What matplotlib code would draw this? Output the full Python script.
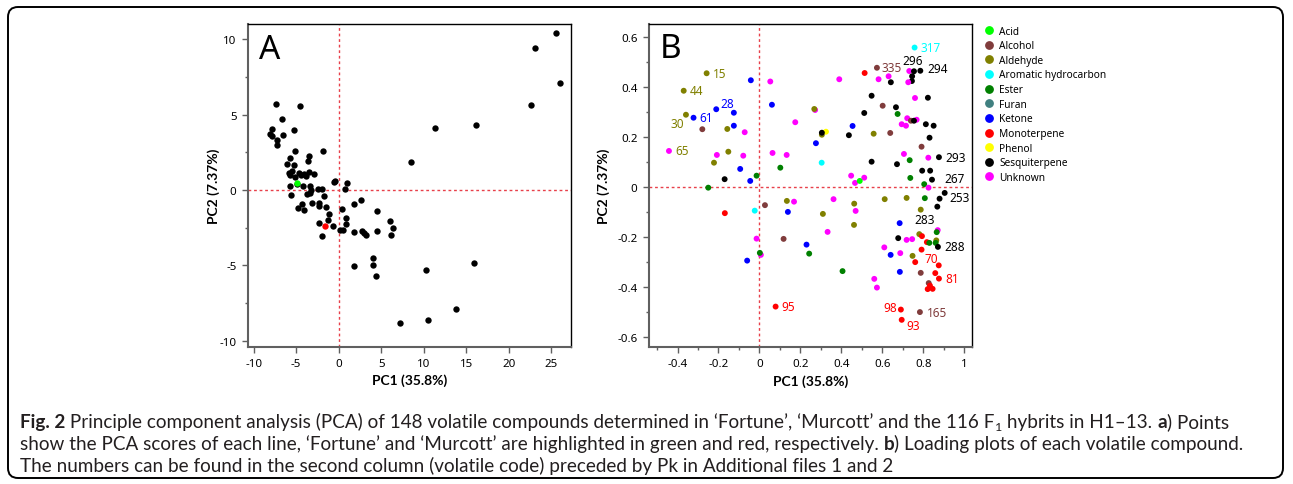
import matplotlib
matplotlib.use("Agg")
import matplotlib.pyplot as plt
from matplotlib.lines import Line2D
from matplotlib.patches import FancyBboxPatch
from matplotlib.transforms import IdentityTransform
from matplotlib.ticker import MultipleLocator

plt.rcParams['font.family'] = ['Noto Sans', 'DejaVu Sans']
plt.rcParams['axes.unicode_minus'] = False

# ---------------- panel A : PCA scores of each line ----------------
scores_pc1 = [25.6, 23.1, 26.0, 22.6, 16.16, 11.37, 8.47, -7.41, -4.51, -6.71,
              -7.8, -8.04, -7.88, -7.25, -7.25, -6.59, -5.29, -5.1, -1.88, -5.69,
              -3.49, -3.65, -6.04, -5.29, -5.88, -5.53, -4.71, -4.08, -3.45, -2.94,
              -5.76, -5.14, -4.43, -3.8, -0.47, -0.55, 1.02, 0.71, -5.73, -4.86,
              -4.24, -3.41, -3.25, -2.47, -1.96, -3.73, -3.37, -5.65, -1.73, -3.14,
              -2.27, -2.27, -4.31, -4.78, -4.04, -1.45, -1.14, -1.29, -2.27, -0.63,
              -1.92, 0.2, 0.51, 0.39, 0.86, 0.9, 1.76, 2.67, 1.76, 2.71,
              2.98, 3.25, 4.47, 4.51, 6.04, 6.39, 6.2, 1.76, 3.99, 3.99,
              4.39, 7.22, 10.24, 10.51, 13.84, 15.92]
scores_pc2 = [10.42, 9.38, 7.11, 5.63, 4.33, 4.08, 1.85, 5.67, 5.56, 4.72,
              4.02, 3.71, 3.58, 3.33, 2.98, 3.66, 3.97, 2.56, 2.58, 2.14,
              2.25, 1.9, 1.72, 1.63, 1.13, 1.26, 1.15, 1.06, 1.19, 1.06,
              0.97, 0.86, 0.97, 0.91, 0.6, 0.53, 0.44, 0.04, 0.24, 0.38,
              0.24, 0.24, -0.02, 0.04, 0.04, -0.26, -0.22, -0.31, -0.42, -0.84,
              -0.86, -1.06, -0.93, -1.21, -1.35, -1.15, -1.61, -2.01, -2.19, -2.36,
              -3.02, -2.65, -2.65, -1.24, -1.83, -2.25, -0.95, -0.68, -2.76, -2.74,
              -2.83, -2.96, -1.41, -2.74, -2.05, -2.52, -2.96, -5.01, -4.48, -4.99,
              -5.7, -8.81, -5.3, -8.59, -7.88, -4.83]
fortune_score = (-4.94, 0.46)
murcott_score = (-1.57, -2.36)

# ---------------- panel B : loadings of each volatile ----------------
class_names = ["Acid", "Alcohol", "Aldehyde", "Aromatic hydrocarbon", "Ester", "Furan",
               "Ketone", "Monoterpene", "Phenol", "Sesquiterpene", "Unknown"]
class_colors = ["#00ff00", "#803c3c", "#808000", "#00ffff", "#008000", "#408080",
                "#0000ff", "#ff0000", "#ffff00", "#000000", "#ff00ff"]

loading_pc1 = [-0.258, -0.37, -0.359, -0.322, -0.211, -0.279, -0.442, -0.125, -0.125, -0.157,
               -0.072, -0.152, -0.208, -0.222, -0.079, -0.094, -0.17, -0.045, -0.014, -0.25,
               -0.042, 0.053, 0.061, 0.175, 0.064, 0.133, 0.102, 0.272, 0.268, 0.305,
               0.325, 0.305, 0.276, 0.304, 0.39, -0.169, -0.023, 0.027, 0.134, 0.169,
               0.139, 0.362, 0.31, 0.333, -0.014, 0.118, 0.23, 0.243, 0.007, 0.002,
               -0.06, 0.079, 0.758, 0.732, 0.755, 0.786, 0.574, 0.514, 0.582, 0.631,
               0.642, 0.746, 0.745, 0.727, 0.548, 0.76, 0.823, 0.602, 0.667, 0.675,
               0.512, 0.722, 0.768, 0.74, 0.755, 0.695, 0.716, 0.813, 0.851, 0.455,
               0.437, 0.558, 0.639, 0.831, 0.792, 0.706, 0.825, 0.877, 0.548, 0.672,
               0.734, 0.795, 0.834, 0.448, 0.512, 0.467, 0.49, 0.737, 0.843, 0.805,
               0.826, 0.905, 0.88, 0.463, 0.47, 0.462, 0.612, 0.719, 0.808, 0.869,
               0.788, 0.685, 0.678, 0.719, 0.746, 0.781, 0.794, 0.871, 0.866, 0.818,
               0.83, 0.864, 0.861, 0.872, 0.792, 0.61, 0.641, 0.688, 0.748, 0.761,
               0.876, 0.686, 0.788, 0.859, 0.877, 0.561, 0.574, 0.827, 0.822, 0.846,
               0.833, 0.691, 0.695, 0.784, 0.406]
loading_pc2 = [0.456, 0.386, 0.29, 0.278, 0.312, 0.232, 0.145, 0.298, 0.246, 0.233,
               0.22, 0.142, 0.129, 0.098, 0.126, 0.073, 0.032, 0.025, 0.046, -0.002,
               0.428, 0.423, 0.33, 0.26, 0.137, 0.129, 0.078, 0.309, 0.313, 0.21,
               0.222, 0.218, 0.176, 0.098, 0.432, -0.104, -0.094, -0.072, -0.055, -0.058,
               -0.099, -0.048, -0.107, -0.179, -0.206, -0.207, -0.23, -0.266, -0.271, -0.263,
               -0.294, -0.478, 0.559, 0.465, 0.464, 0.466, 0.478, 0.457, 0.432, 0.444,
               0.42, 0.444, 0.425, 0.42, 0.366, 0.357, 0.358, 0.326, 0.32, 0.293,
               0.297, 0.276, 0.27, 0.266, 0.266, 0.252, 0.246, 0.252, 0.246, 0.245,
               0.208, 0.214, 0.217, 0.198, 0.162, 0.133, 0.118, 0.12, 0.102, 0.092,
               0.108, 0.066, 0.066, 0.046, 0.038, 0.017, 0.025, 0.037, 0.03, 0.012,
               -0.002, -0.023, -0.046, -0.066, -0.095, -0.151, -0.048, -0.043, -0.044, -0.078,
               -0.09, -0.144, -0.204, -0.211, -0.208, -0.188, -0.196, -0.172, -0.18, -0.22,
               -0.223, -0.213, -0.223, -0.239, -0.25, -0.241, -0.271, -0.264, -0.275, -0.3,
               -0.313, -0.339, -0.343, -0.344, -0.366, -0.367, -0.402, -0.384, -0.408, -0.407,
               -0.394, -0.49, -0.531, -0.5, -0.336]
loading_class = ["Aldehyde", "Aldehyde", "Aldehyde", "Ketone", "Ketone", "Alcohol", "Unknown", "Ketone", "Ketone", "Aldehyde",
                 "Unknown", "Aldehyde", "Unknown", "Aldehyde", "Unknown", "Ketone", "Sesquiterpene", "Ketone", "Ester", "Ester",
                 "Ketone", "Unknown", "Ketone", "Unknown", "Unknown", "Unknown", "Ester", "Unknown", "Aldehyde", "Aldehyde",
                 "Phenol", "Sesquiterpene", "Ketone", "Aromatic hydrocarbon", "Unknown", "Monoterpene", "Aromatic hydrocarbon", "Alcohol", "Aldehyde", "Unknown",
                 "Ketone", "Unknown", "Aldehyde", "Unknown", "Unknown", "Alcohol", "Ketone", "Ester", "Unknown", "Ester",
                 "Ketone", "Monoterpene", "Aromatic hydrocarbon", "Unknown", "Sesquiterpene", "Sesquiterpene", "Alcohol", "Monoterpene", "Unknown", "Unknown",
                 "Sesquiterpene", "Sesquiterpene", "Sesquiterpene", "Unknown", "Sesquiterpene", "Unknown", "Sesquiterpene", "Alcohol", "Sesquiterpene", "Ester",
                 "Sesquiterpene", "Unknown", "Unknown", "Alcohol", "Sesquiterpene", "Unknown", "Unknown", "Sesquiterpene", "Sesquiterpene", "Ketone",
                 "Sesquiterpene", "Aldehyde", "Alcohol", "Sesquiterpene", "Alcohol", "Unknown", "Unknown", "Sesquiterpene", "Sesquiterpene", "Sesquiterpene",
                 "Ester", "Sesquiterpene", "Sesquiterpene", "Unknown", "Unknown", "Unknown", "Acid", "Ester", "Sesquiterpene", "Ester",
                 "Unknown", "Sesquiterpene", "Sesquiterpene", "Aldehyde", "Unknown", "Aldehyde", "Aldehyde", "Aldehyde", "Ester", "Sesquiterpene",
                 "Aldehyde", "Ketone", "Sesquiterpene", "Unknown", "Unknown", "Aldehyde", "Monoterpene", "Unknown", "Ester", "Monoterpene",
                 "Ester", "Aldehyde", "Ester", "Sesquiterpene", "Monoterpene", "Unknown", "Ketone", "Unknown", "Aldehyde", "Monoterpene",
                 "Monoterpene", "Ketone", "Alcohol", "Monoterpene", "Monoterpene", "Unknown", "Unknown", "Alcohol", "Monoterpene", "Monoterpene",
                 "Monoterpene", "Monoterpene", "Monoterpene", "Alcohol", "Ester"]

# volatile codes written next to some loadings (index into the lists above)
label_codes = ["15", "44", "30", "61", "28", "65", "95", "317", "296", "294", "335",
               "293", "267", "253", "283", "288", "70", "81", "98", "93", "165"]
label_index = [0, 1, 2, 3, 4, 6, 51, 52, 54, 55, 56,
               87, 98, 101, 110, 123, 129, 134, 141, 142, 143]

# ---- label placement (pixel offsets, alignment, colour override) ----
label_style = {
    "15": (6, 0, "left", None), "44": (6, 0, "left", None), "30": (-2, -9, "right", None),
    "61": (6, 0, "left", None), "28": (4, 6, "left", None), "65": (6, 0, "left", "#808000"),
    "95": (6, 0, "left", None), "317": (6, 0, "left", None), "296": (-1, 11, "center", None),
    "294": (7, 2, "left", None), "335": (5, 0, "left", None), "293": (6, 0, "left", None),
    "267": (12, 1, "left", None), "253": (5, -5, "left", None), "283": (4, -10, "center", "#000000"),
    "288": (6, 0, "left", None), "70": (9, 4, "left", None), "81": (6, 0, "left", None),
    "98": (-4, 2, "right", None), "93": (5, -6, "left", None), "165": (7, 0, "left", None),
}

W, H = 1293, 485
fig = plt.figure(figsize=(W / 100, H / 100), dpi=100)

axA = fig.add_axes([247.7 / W, 1 - 348 / H, 323 / W, 323 / H])
axB = fig.add_axes([648.7 / W, 1 - 348.3 / H, 323 / W, 323 / H])

zero_kw = dict(color="#e8404a", lw=1.0, linestyle=(0, (2, 2)), zorder=1)

def style_axes(ax):
    for side in ["left", "bottom"]:
        ax.spines[side].set_color("#606060")
        ax.spines[side].set_linewidth(1.5)
    for side in ["top", "right"]:
        ax.spines[side].set_color("black")
        ax.spines[side].set_linewidth(1.0)
    ax.tick_params(which="major", direction="out", length=4, width=1, color="#606060",
                   labelsize=8.3, pad=4)
    ax.tick_params(which="minor", direction="out", length=2.5, width=1, color="#606060")
    ax.axhline(0, **zero_kw)
    ax.axvline(0, **zero_kw)

# panel A
style_axes(axA)
axA.scatter(scores_pc1, scores_pc2, s=21, color="black", zorder=3, linewidths=0)
axA.scatter(*fortune_score, s=21, color="#00ff00", zorder=4, linewidths=0)
axA.scatter(*murcott_score, s=21, color="#ff0000", zorder=4, linewidths=0)
axA.set_xlim(-10.7, 27.3)
axA.set_ylim(-10.4, 11.0)
axA.xaxis.set_major_locator(MultipleLocator(5))
axA.yaxis.set_major_locator(MultipleLocator(5))
axA.yaxis.set_minor_locator(MultipleLocator(2.5))
axA.text(0.036, 0.894, "A", transform=axA.transAxes, fontsize=24, va="baseline")

# panel B
style_axes(axB)
color_of = dict(zip(class_names, class_colors))
axB.scatter(loading_pc1, loading_pc2, s=18, linewidths=0, zorder=3,
            c=[color_of[c] for c in loading_class])
for code, i in zip(label_codes, label_index):
    dx, dy, ha, col = label_style[code]
    axB.annotate(code, (loading_pc1[i], loading_pc2[i]), xytext=(dx, dy),
                 textcoords="offset pixels", ha=ha, va="center", fontsize=8.5,
                 color=col or color_of[loading_class[i]], zorder=4)
axB.set_xlim(-0.541, 1.037)
axB.set_ylim(-0.641, 0.652)
axB.xaxis.set_major_locator(MultipleLocator(0.2))
axB.xaxis.set_minor_locator(MultipleLocator(0.1))
axB.yaxis.set_major_locator(MultipleLocator(0.2))
axB.yaxis.set_minor_locator(MultipleLocator(0.1))
axB.xaxis.set_major_formatter(lambda v, p: "%g" % round(v, 1))
axB.yaxis.set_major_formatter(lambda v, p: "%g" % round(v, 1))
axB.text(0.033, 0.898, "B", transform=axB.transAxes, fontsize=24, va="baseline")

for ax, ylx in [(axA, -0.087), (axB, -0.121)]:
    ax.set_xlabel("PC1 (35.8%)", family="Lato", fontweight="bold", fontsize=10)
    ax.set_ylabel("PC2 (7.37%)", family="Lato", fontweight="bold", fontsize=10)
    ax.xaxis.set_label_coords(0.5, -0.083)
    ax.yaxis.set_label_coords(ylx, 0.5)

handles = [Line2D([], [], marker="o", ls="", color=c, markersize=5.3) for c in class_colors]
fig.legend(handles, class_names, loc="upper left", bbox_to_anchor=(984 / W, 1 - 26.5 / H),
           frameon=False, fontsize=7.3, borderpad=0, borderaxespad=0, handlelength=1.0,
           handletextpad=0.5, labelspacing=0.36)

# rounded frame around the figure
fig.patches.append(FancyBboxPatch((8, 6), 1275, 471, boxstyle="round,pad=0,rounding_size=10",
                                  transform=IdentityTransform(), fill=False, lw=1.4,
                                  ec="black", figure=fig))

# caption with mixed weights
renderer = fig.canvas.get_renderer()

def run_width(s, **kw):
    t1 = fig.text(0, 0, "|" + s + "|", **kw)
    t2 = fig.text(0, 0, "||", **kw)
    w = t1.get_window_extent(renderer).width - t2.get_window_extent(renderer).width
    t1.remove()
    t2.remove()
    return w

cap_kw = dict(family="Lato", color="#231f20")
caption = [
    [("Fig. 2", "bold"), (" Principle component analysis (PCA) of 148 volatile compounds determined in \u2018Fortune\u2019, \u2018Murcott\u2019 and the 116 F", "normal"),
     ("1", "sub"), (" hybrits in H1\u201313. ", "normal"), ("a", "bold"), (") Points", "normal")],
    [("show the PCA scores of each line, \u2018Fortune\u2019 and \u2018Murcott\u2019 are highlighted in green and red, respectively. ", "normal"),
     ("b", "bold"), (") Loading plots of each volatile compound.", "normal")],
    [("The numbers can be found in the second column (volatile code) preceded by Pk in Additional files 1 and 2", "normal")],
]

def run_kw(kind, size):
    if kind == "sub":
        return dict(fontsize=size * 0.66, fontweight="normal", **cap_kw)
    return dict(fontsize=size, fontweight=kind, **cap_kw)

# pick the size so that the first two lines stay inside their reference widths
line_w = [sum(run_width(s, **run_kw(k, 12)) for s, k in line) for line in caption[:2]]
cap_size = min(12 * 1255 / line_w[0], 12 * 1215 / line_w[1])

for line, base in zip(caption, [57, 35, 13]):
    x = 20
    for s, kind in line:
        kw = run_kw(kind, cap_size)
        y = base - 3 if kind == "sub" else base
        fig.text(x, y, s, transform=IdentityTransform(), va="baseline", **kw)
        x += run_width(s, **kw)

fig.savefig("out.png", dpi=100)
